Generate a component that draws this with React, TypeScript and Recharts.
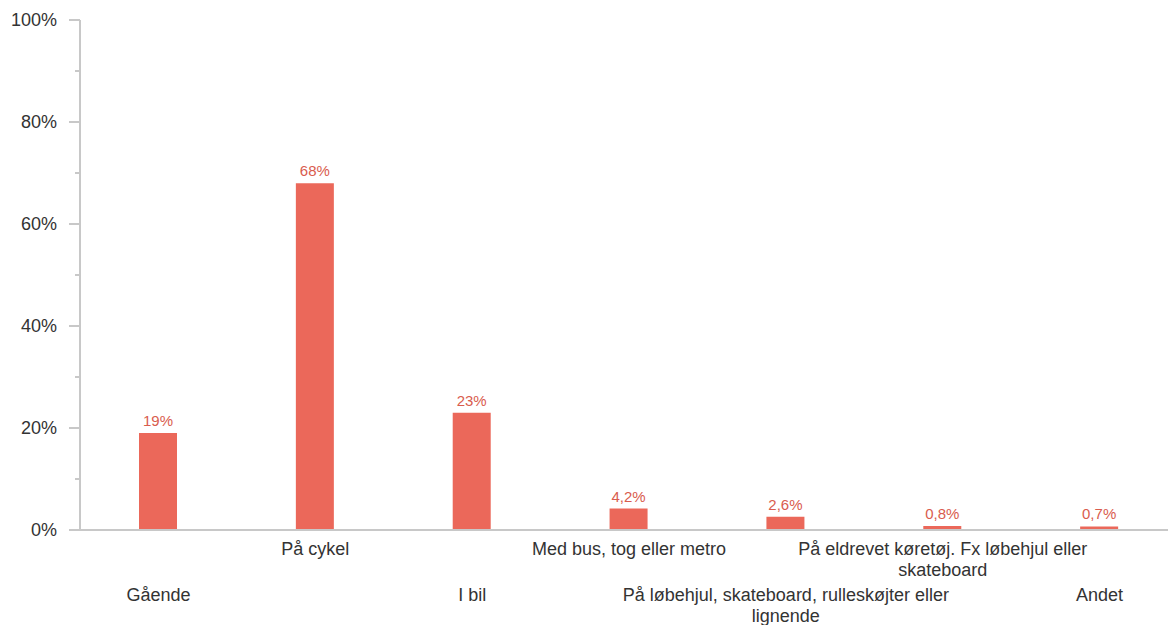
import { BarChart, Bar, XAxis, YAxis, LabelList } from 'recharts'

const categories = [
  'Gående',
  'På cykel',
  'I bil',
  'Med bus, tog eller metro',
  'På løbehjul, skateboard, rulleskøjter eller lignende',
  'På eldrevet køretøj. Fx løbehjul eller skateboard',
  'Andet',
]
const shares = [19, 68, 23, 4.2, 2.6, 0.8, 0.7]
const yTicks = [0, 10, 20, 30, 40, 50, 60, 70, 80, 90, 100]

const data = categories.map((name, i) => ({ name, value: shares[i] }))

const FONT = '"Liberation Sans", Arial, sans-serif'
const AXIS_COLOR = '#c8c8c8'

function fmt(v: number) {
  if (v >= 10) return `${Math.round(v)}%`
  return `${v.toFixed(1).replace('.', ',')}%`
}

// simple word wrap by character count
function wrap(text: string, max = 44) {
  const words = text.split(' ')
  const lines: string[] = []
  let cur = ''
  words.forEach((w) => {
    const next = cur ? `${cur} ${w}` : w
    if (next.length > max && cur) {
      lines.push(cur)
      cur = w
    } else {
      cur = next
    }
  })
  if (cur) lines.push(cur)
  return lines
}

function XTick(props: any) {
  const { x, y, payload, index } = props
  const lines = wrap(String(payload.value))
  const base = index % 2 === 1 ? 25 : 71
  return (
    <text x={x} y={y} textAnchor="middle" fill="#333" fontSize={18} fontFamily={FONT}>
      {lines.map((l, i) => (
        <tspan key={i} x={x} y={y + base + i * 21}>
          {l}
        </tspan>
      ))}
    </text>
  )
}

function YTick(props: any) {
  const { x, y, payload } = props
  const major = payload.value % 20 === 0
  return (
    <g>
      <line x1={x - (major ? 11 : 5)} x2={x} y1={y} y2={y} stroke={AXIS_COLOR} strokeWidth={2} />
      {major && (
        <text x={x - 23} y={y + 6} textAnchor="end" fill="#333" fontSize={18} fontFamily={FONT}>
          {payload.value}%
        </text>
      )}
    </g>
  )
}

export default function App() {
  return (
    <div style={{ position: 'absolute', left: 0, top: 0, width: 1168, height: 625, overflow: 'hidden', background: '#fff' }}>
      <BarChart width={1178} height={625} data={data} margin={{ top: 20, right: 0, bottom: 0, left: 0 }}>
        <XAxis
          dataKey="name"
          interval={0}
          height={95}
          tickLine={false}
          tickSize={0}
          tickMargin={0}
          axisLine={{ stroke: AXIS_COLOR, strokeWidth: 2 }}
          tick={<XTick />}
        />
        <YAxis
          width={80}
          domain={[0, 100]}
          ticks={yTicks}
          interval={0}
          tickLine={false}
          tickSize={0}
          tickMargin={0}
          axisLine={{ stroke: AXIS_COLOR, strokeWidth: 2 }}
          tick={<YTick />}
        />
        <Bar dataKey="value" fill="#EB685A" barSize={38} isAnimationActive={false}>
          <LabelList
            dataKey="value"
            position="top"
            offset={7}
            formatter={(v: any) => fmt(Number(v))}
            fill="#D95C4E"
            fontSize={15}
            fontFamily={FONT}
          />
        </Bar>
      </BarChart>
    </div>
  )
}
